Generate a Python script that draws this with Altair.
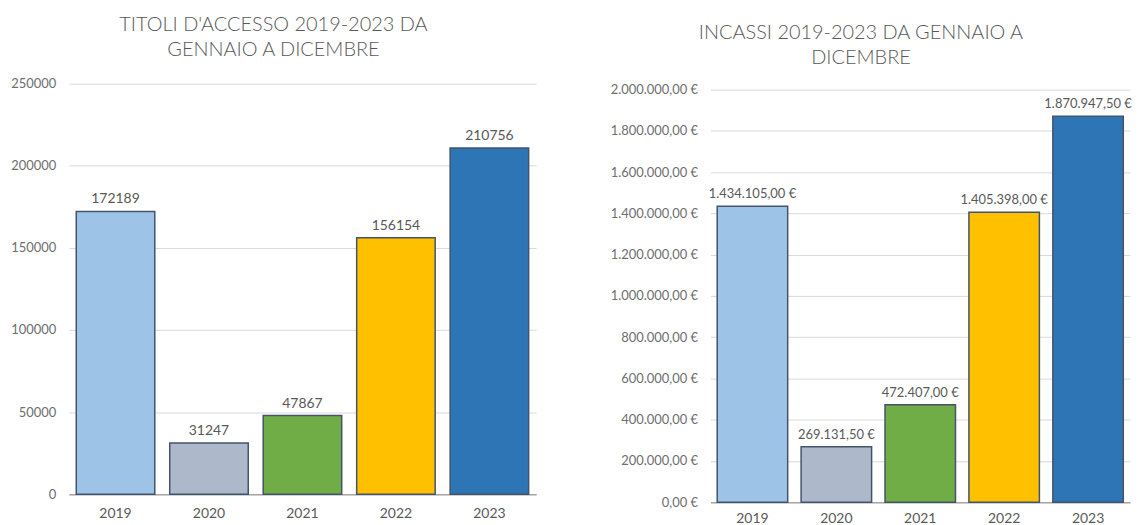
import altair as alt
import pandas as pd

years = ["2019", "2020", "2021", "2022", "2023"]
titoli = [172189, 31247, 47867, 156154, 210756]
incassi = [1434105.00, 269131.50, 472407.00, 1405398.00, 1870947.50]
colors = ["#9DC3E6", "#ADB9CA", "#70AD47", "#FFC000", "#2E75B6"]
titoli_ticks = [0, 50000, 100000, 150000, 200000, 250000]
incassi_ticks = [0, 200000, 400000, 600000, 800000, 1000000, 1200000,
                 1400000, 1600000, 1800000, 2000000]

title_left = ["TITOLI D'ACCESSO 2019-2023 DA", "GENNAIO A DICEMBRE"]
title_right = ["INCASSI 2019-2023 DA GENNAIO A", "DICEMBRE"]

df1 = pd.DataFrame({"anno": years, "valore": titoli})
df2 = pd.DataFrame({"anno": years, "valore": incassi})

FONT = "Lato"
TXT = "#595959"
color_scale = alt.Scale(domain=years, range=colors)


def xenc(pad):
    return alt.X(
        "anno:N", sort=years,
        scale=alt.Scale(paddingInner=0.16, paddingOuter=0.08),
        axis=alt.Axis(title=None, labelAngle=0, labelFontSize=14, labelColor=TXT,
                      labelFont=FONT, labelPadding=pad, ticks=False, tickSize=0,
                      domainColor="#A6A6A6", domainWidth=1.5, grid=False),
    )


def yaxis(ticks, fmt):
    return alt.Axis(title=None, values=ticks, format=fmt, labelFontSize=13,
                    labelColor="#6E6E6E", labelFont=FONT, labelPadding=13,
                    ticks=False, tickSize=0, domain=False, gridColor="#D9D9D9",
                    gridWidth=1)


# Left chart
y1 = alt.Y("valore:Q", scale=alt.Scale(domain=[0, 250000], nice=False),
           axis=yaxis(titoli_ticks, "d"))
bars1 = alt.Chart(df1).mark_bar(stroke="#44546A", strokeWidth=1.5).encode(
    x=xenc(12), y=y1,
    color=alt.Color("anno:N", scale=color_scale, legend=None),
)
text1 = alt.Chart(df1).mark_text(dy=-8, baseline="alphabetic", fontSize=14,
                                 color=TXT, font=FONT).encode(
    x=xenc(12), y=y1, text=alt.Text("valore:Q", format="d"),
)
left = alt.layer(bars1, text1).properties(
    width=469, height=412,
    title=alt.Title(title_left, anchor="middle", frame="bounds", fontSize=20,
                    font=FONT, fontWeight=300, color=TXT, lineHeight=25,
                    offset=18),
)

# Right chart
y2 = alt.Y("valore:Q", scale=alt.Scale(domain=[0, 2000000], nice=False, range=[420, 6]),
           axis=yaxis(incassi_ticks, "$,.2f"))
bars2 = alt.Chart(df2).mark_bar(stroke="#44546A", strokeWidth=1.5).encode(
    x=xenc(9), y=y2,
    color=alt.Color("anno:N", scale=color_scale, legend=None),
)
text2 = alt.Chart(df2).mark_text(dy=-8, baseline="alphabetic", fontSize=13,
                                 color=TXT, font=FONT).encode(
    x=xenc(9), y=y2, text=alt.Text("valore:Q", format="$,.2f"),
)
right = alt.layer(bars2, text2).properties(
    width=421, height=420,
    title=alt.Title(title_right, anchor="middle", frame="bounds", fontSize=20,
                    font=FONT, fontWeight=300, color=TXT, lineHeight=25,
                    offset=16, dx=-10),
)

chart = alt.hconcat(left, right, spacing=175, bounds="flush").properties(
    padding={"left": 2, "top": 6, "right": 0, "bottom": 0}
).configure(
    locale={"number": {"decimal": ",", "thousands": ".", "grouping": [3],
                       "currency": ["", " €"]}}
).configure_view(stroke=None)

chart.save("out.html", embed_options={"renderer": "svg", "actions": False})
